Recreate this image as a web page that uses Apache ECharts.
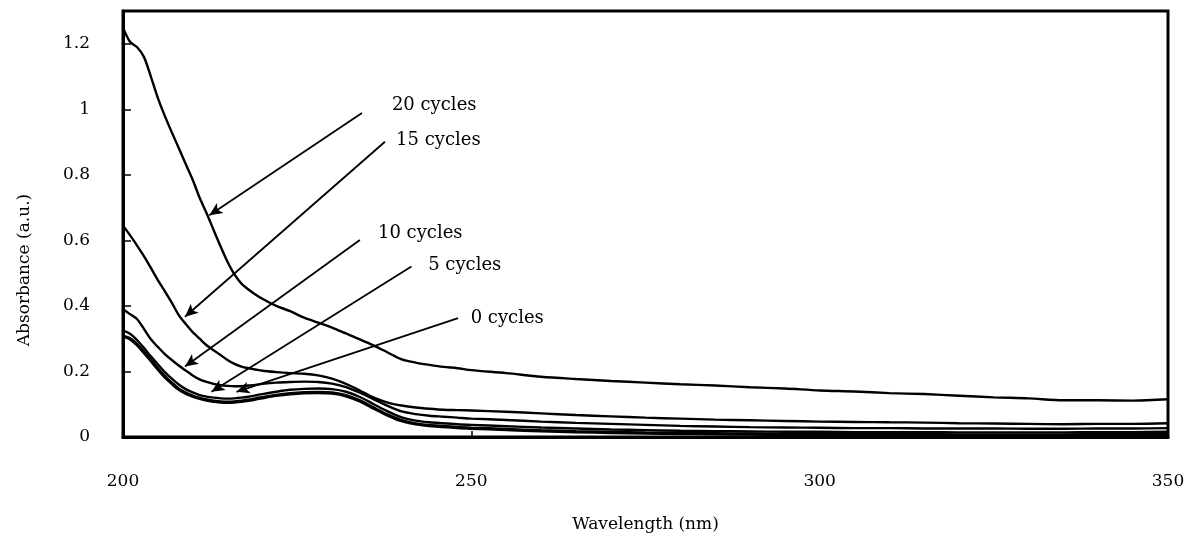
<!DOCTYPE html>
<html>
<head>
<meta charset="utf-8">
<script src="https://cdn.jsdelivr.net/npm/echarts@6/dist/echarts.min.js"></script>
<style>
html,body{margin:0;padding:0;background:#fff;}
#chart{width:1194px;height:543px;}
</style>
</head>
<body>
<div id="chart"></div>
<script>
// Wavelength (nm)
const wavelengths = [200,201,202,203,204,205,206,207,208,209,210,211,212,213,214,215,216,217,218,219,220,222,224,226,228,230,232,234,236,238,240,242,244,246,248,250,255,260,265,270,275,280,285,290,295,300,305,310,315,320,325,330,335,340,345,350];

// Absorbance (a.u.)
const cycles20 = [1.25,1.206,1.19,1.16,1.1,1.035,0.98,0.93,0.882,0.833,0.785,0.73,0.683,0.632,0.582,0.535,0.496,0.468,0.45,0.435,0.422,0.4,0.384,0.364,0.349,0.334,0.316,0.298,0.279,0.258,0.237,0.227,0.22,0.214,0.21,0.204,0.195,0.184,0.177,0.171,0.166,0.161,0.157,0.152,0.148,0.142,0.139,0.134,0.131,0.126,0.121,0.118,0.112,0.112,0.111,0.115];
const cycles15 = [0.645,0.616,0.585,0.552,0.516,0.479,0.445,0.41,0.372,0.345,0.32,0.3,0.28,0.265,0.25,0.235,0.223,0.215,0.21,0.206,0.202,0.198,0.195,0.193,0.188,0.178,0.162,0.142,0.12,0.105,0.096,0.09,0.086,0.083,0.082,0.081,0.077,0.072,0.067,0.063,0.059,0.056,0.053,0.051,0.049,0.047,0.046,0.045,0.044,0.042,0.041,0.040,0.039,0.040,0.040,0.042];
const cycles10 = [0.39,0.375,0.36,0.33,0.298,0.275,0.253,0.235,0.218,0.203,0.188,0.176,0.168,0.162,0.158,0.156,0.155,0.155,0.157,0.159,0.162,0.166,0.168,0.169,0.168,0.163,0.152,0.135,0.115,0.095,0.078,0.07,0.065,0.062,0.059,0.056,0.052,0.047,0.043,0.040,0.037,0.034,0.032,0.030,0.029,0.028,0.027,0.027,0.026,0.026,0.026,0.025,0.025,0.026,0.026,0.027];
const cycles5 = [0.325,0.315,0.296,0.272,0.246,0.222,0.198,0.178,0.16,0.146,0.136,0.128,0.123,0.12,0.118,0.117,0.118,0.12,0.123,0.127,0.131,0.138,0.144,0.147,0.148,0.146,0.138,0.122,0.1,0.078,0.06,0.05,0.045,0.042,0.039,0.037,0.033,0.029,0.026,0.023,0.021,0.019,0.018,0.017,0.016,0.016,0.015,0.015,0.015,0.014,0.014,0.014,0.014,0.015,0.015,0.016];
const cycles0 = [0.308,0.3,0.282,0.258,0.234,0.208,0.184,0.164,0.146,0.134,0.125,0.118,0.113,0.109,0.107,0.106,0.107,0.109,0.112,0.116,0.12,0.127,0.132,0.135,0.136,0.134,0.126,0.11,0.088,0.067,0.05,0.04,0.035,0.032,0.029,0.027,0.023,0.019,0.016,0.014,0.012,0.011,0.010,0.009,0.008,0.008,0.007,0.007,0.007,0.006,0.006,0.006,0.006,0.007,0.007,0.008];

const seriesNames = ['20 cycles','15 cycles','10 cycles','5 cycles','0 cycles'];
const seriesValues = [cycles20, cycles15, cycles10, cycles5, cycles0];

// Annotation arrows: [start (wavelength, absorbance), tip (wavelength, absorbance)]
const arrowStarts = [[234.3,0.989],[237.6,0.901],[234.0,0.601],[241.4,0.520],[248.1,0.363]];
const arrowTips = [[212.4,0.677],[208.9,0.367],[208.9,0.215],[212.7,0.138],[216.3,0.138]];
// Annotation text anchors (left edge, vertical middle)
const labelAnchors = [[238.6,1.013],[239.2,0.906],[236.6,0.623],[243.8,0.525],[249.9,0.363]];

const xTicks = {min:200, max:350, interval:50};
const yTicks = {min:0, max:1.3, interval:0.2};

const FONT = 'DejaVu Serif';

const series = seriesNames.map((name, i) => ({
  name: name,
  type: 'line',
  data: wavelengths.map((w, j) => [w, seriesValues[i][j]]),
  showSymbol: false,
  smooth: 0.3,
  lineStyle: {color: '#000', width: i === 4 ? 3.5 : 2.4},
  z: 3,
  animation: false,
  markLine: {
    silent: true,
    animation: false,
    lineStyle: {color: '#000', width: 1.8, type: 'solid'},
    label: {show: false},
    data: [[
      {coord: arrowStarts[i], symbol: 'none'},
      {coord: arrowTips[i], symbol: 'arrow', symbolSize: [9, 13]}
    ]]
  },
  markPoint: {
    silent: true,
    animation: false,
    data: [{
      coord: labelAnchors[i],
      symbol: 'circle',
      symbolSize: 0,
      label: {
        show: true,
        position: 'right',
        distance: 0,
        formatter: name,
        color: '#000',
        fontFamily: FONT,
        fontSize: 18
      }
    }]
  }
}));

const chart = echarts.init(document.getElementById('chart'), null, {renderer: 'canvas'});
chart.setOption({
  backgroundColor: '#fff',
  animation: false,
  grid: {left: 123, right: 26, top: 11, bottom: 106, show: true, borderColor: '#000', borderWidth: 3, backgroundColor: 'transparent'},
  xAxis: {
    type: 'value',
    min: xTicks.min, max: xTicks.max, interval: xTicks.interval,
    name: 'Wavelength (nm)',
    nameLocation: 'middle',
    nameGap: 79,
    nameTextStyle: {color: '#000', fontFamily: FONT, fontSize: 17},
    axisLine: {show: true, onZero: false, lineStyle: {color: '#000', width: 3}},
    axisTick: {show: true, inside: true, length: 6, lineStyle: {color: '#000', width: 1.5}},
    axisLabel: {color: '#000', fontFamily: FONT, fontSize: 17, margin: 36},
    splitLine: {show: false}
  },
  yAxis: {
    type: 'value',
    min: yTicks.min, max: yTicks.max, interval: yTicks.interval,
    axisLine: {show: true, onZero: false, lineStyle: {color: '#000', width: 3}},
    axisTick: {show: true, inside: true, length: 8, lineStyle: {color: '#000', width: 1.5}},
    axisLabel: {color: '#000', fontFamily: FONT, fontSize: 17, margin: 33, showMaxLabel: false},
    splitLine: {show: false}
  },
  graphic: [{
    type: 'text',
    x: 25, y: 270,
    rotation: Math.PI / 2,
    style: {
      text: 'Absorbance (a.u.)',
      fill: '#000',
      font: '17px "DejaVu Serif"',
      textAlign: 'center',
      textVerticalAlign: 'middle'
    }
  }],
  series: series
});
</script>
</body>
</html>
